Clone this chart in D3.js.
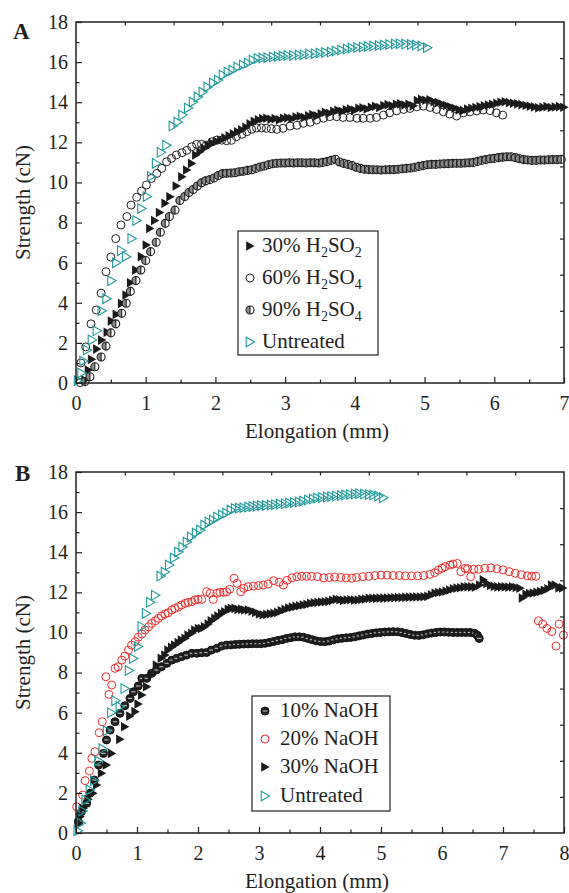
<!DOCTYPE html>
<html><head><meta charset="utf-8">
<script src="https://cdn.jsdelivr.net/npm/d3@7"></script>
<style>body{margin:0;background:#fff} text{font-family:"Liberation Serif","Tinos","DejaVu Serif",serif}</style>
</head><body>
<svg id="c" width="569" height="893" xmlns="http://www.w3.org/2000/svg"></svg>
<script>
// ---------- data (elongation mm, strength cN) ----------
const untreated = [[0.03,0.11],[0.08,0.5],[0.11,1.1],[0.16,1.65],[0.23,2.15],[0.3,2.6],[0.37,3.6],[0.44,4.2],[0.51,5.1],[0.58,6.0],[0.65,6.6],[0.72,6.3],[0.8,7.2],[0.87,8.1],[0.94,8.7],[1.02,9.3],[1.08,10.3],[1.15,10.95],[1.22,11.5],[1.3,11.85],[1.39,12.81],[1.46,13.01],[1.53,13.36],[1.61,13.71],[1.68,14.01],[1.75,14.26],[1.82,14.51],[1.89,14.76],[1.97,14.96],[2.04,15.11],[2.11,15.35],[2.18,15.5],[2.25,15.6],[2.32,15.75],[2.4,15.85],[2.47,15.95],[2.54,16.1],[2.61,16.18],[2.68,16.2],[2.75,16.22],[2.83,16.25],[2.9,16.28],[2.97,16.3],[3.04,16.33],[3.12,16.33],[3.2,16.35],[3.27,16.37],[3.35,16.4],[3.43,16.42],[3.5,16.45],[3.58,16.48],[3.66,16.5],[3.73,16.55],[3.81,16.6],[3.89,16.65],[3.96,16.7],[4.04,16.73],[4.12,16.75],[4.19,16.78],[4.27,16.8],[4.35,16.83],[4.42,16.85],[4.5,16.88],[4.58,16.9],[4.65,16.92],[4.73,16.9],[4.81,16.88],[4.88,16.85],[4.96,16.8],[5.04,16.72]];

const h2so2_30 = [[0.13,0.15],[0.18,0.65],[0.225,1.18],[0.3,1.69],[0.37,2.14],[0.45,2.53],[0.51,3.09],[0.58,3.42],[0.655,3.97],[0.72,4.39],[0.785,5.0],[0.86,5.63],[0.94,6.3],[1.01,6.88],[1.06,7.7],[1.13,8.1],[1.2,8.5],[1.28,8.96],[1.35,9.29],[1.44,9.82],[1.52,10.28],[1.59,10.62],[1.66,10.95],[1.72,11.37],[1.78,11.53],[1.84,11.7],[1.9,11.85],[1.96,11.95],[2.02,12.05],[2.08,12.12],[2.14,12.22],[2.2,12.32],[2.26,12.42],[2.32,12.52],[2.38,12.62],[2.44,12.75],[2.5,12.92],[2.56,13.05],[2.62,13.12],[2.68,13.18],[2.74,13.2],[2.8,13.15],[2.86,13.18],[2.92,13.12],[2.98,13.2],[3.04,13.22],[3.1,13.18],[3.16,13.26],[3.22,13.3],[3.28,13.24],[3.34,13.32],[3.4,13.38],[3.46,13.32],[3.52,13.42],[3.58,13.5],[3.64,13.45],[3.7,13.55],[3.76,13.6],[3.82,13.55],[3.88,13.62],[3.94,13.66],[4.0,13.6],[4.06,13.7],[4.12,13.72],[4.18,13.66],[4.24,13.75],[4.3,13.8],[4.36,13.74],[4.42,13.84],[4.48,13.88],[4.54,13.82],[4.6,13.9],[4.66,13.92],[4.72,13.86],[4.78,13.9],[4.84,13.82],[4.9,14.08],[4.96,14.15],[5.02,14.1],[5.08,14.12],[5.14,14.02],[5.2,13.98],[5.26,13.9],[5.32,13.84],[5.38,13.76],[5.44,13.7],[5.5,13.62],[5.56,13.58],[5.62,13.66],[5.68,13.7],[5.74,13.74],[5.8,13.78],[5.86,13.82],[5.92,13.86],[5.98,13.9],[6.04,13.95],[6.1,14.0],[6.16,14.02],[6.22,13.98],[6.28,13.95],[6.34,13.92],[6.4,13.88],[6.46,13.84],[6.52,13.8],[6.58,13.76],[6.64,13.72],[6.7,13.75],[6.76,13.78],[6.82,13.74],[6.88,13.76],[6.94,13.78],[7.0,13.75]];

const h2so4_60 = [[0.06,0.02],[0.07,1.0],[0.14,1.8],[0.215,2.95],[0.29,3.64],[0.36,4.48],[0.43,5.55],[0.5,6.28],[0.57,7.2],[0.645,7.88],[0.73,8.3],[0.79,8.87],[0.87,9.26],[0.94,9.57],[1.01,9.87],[1.08,10.2],[1.16,10.45],[1.23,10.7],[1.3,11.03],[1.37,11.2],[1.44,11.37],[1.52,11.48],[1.59,11.6],[1.66,11.78],[1.73,11.9],[1.8,11.9],[1.87,11.86],[1.95,12.03],[2.02,12.11],[2.09,12.11],[2.16,12.08],[2.23,12.1],[2.3,12.28],[2.38,12.4],[2.45,12.53],[2.52,12.65],[2.59,12.72],[2.66,12.72],[2.73,12.7],[2.8,12.68],[2.88,12.65],[2.97,12.7],[3.07,12.81],[3.17,12.85],[3.26,12.95],[3.36,13.0],[3.45,13.11],[3.55,13.2],[3.64,13.28],[3.74,13.28],[3.83,13.24],[3.93,13.24],[4.03,13.2],[4.12,13.2],[4.22,13.2],[4.31,13.24],[4.41,13.36],[4.5,13.47],[4.6,13.57],[4.7,13.64],[4.79,13.69],[4.89,13.77],[4.98,13.81],[5.08,13.74],[5.17,13.64],[5.27,13.52],[5.36,13.41],[5.46,13.31],[5.56,13.47],[5.65,13.52],[5.75,13.57],[5.84,13.61],[5.94,13.58],[6.03,13.47],[6.12,13.36]];

const h2so4_90 = [[0.13,0.07],[0.2,0.31],[0.27,0.81],[0.36,1.3],[0.43,1.84],[0.5,2.5],[0.57,2.95],[0.655,3.48],[0.72,3.98],[0.78,4.57],[0.86,5.11],[0.93,5.63],[1.0,6.11],[1.07,6.55],[1.15,7.02],[1.21,7.52],[1.28,7.96],[1.34,8.3],[1.42,8.62],[1.49,9.1],[1.56,9.3],[1.62,9.5],[1.68,9.65],[1.74,9.82],[1.8,9.98],[1.86,10.08],[1.92,10.14],[1.98,10.22],[2.04,10.35],[2.1,10.44],[2.16,10.46],[2.22,10.47],[2.28,10.48],[2.34,10.53],[2.4,10.56],[2.46,10.6],[2.52,10.63],[2.58,10.7],[2.64,10.77],[2.7,10.82],[2.76,10.88],[2.82,10.93],[2.88,10.96],[2.94,10.97],[3.0,10.97],[3.06,10.98],[3.12,10.97],[3.18,10.98],[3.24,10.98],[3.3,10.97],[3.36,10.98],[3.42,10.98],[3.48,10.97],[3.54,11.0],[3.6,11.04],[3.66,11.1],[3.72,11.16],[3.78,11.02],[3.84,10.95],[3.9,10.9],[3.96,10.84],[4.02,10.76],[4.08,10.7],[4.14,10.66],[4.2,10.64],[4.26,10.63],[4.32,10.63],[4.38,10.62],[4.44,10.63],[4.5,10.64],[4.56,10.64],[4.62,10.66],[4.68,10.68],[4.74,10.7],[4.8,10.72],[4.86,10.76],[4.92,10.8],[4.98,10.84],[5.04,10.88],[5.1,10.9],[5.16,10.9],[5.22,10.92],[5.28,10.93],[5.34,10.94],[5.4,10.95],[5.46,10.96],[5.52,10.96],[5.58,10.97],[5.64,10.98],[5.7,11.0],[5.76,11.05],[5.82,11.1],[5.88,11.14],[5.94,11.18],[6.0,11.2],[6.06,11.24],[6.12,11.26],[6.18,11.28],[6.24,11.28],[6.3,11.24],[6.36,11.18],[6.42,11.14],[6.48,11.12],[6.54,11.1],[6.6,11.1],[6.66,11.12],[6.72,11.12],[6.78,11.13],[6.84,11.14],[6.9,11.14],[6.96,11.15]];

const naoh_10 = [[0.04,0.56],[0.09,1.06],[0.175,1.48],[0.23,1.98],[0.3,2.64],[0.37,3.39],[0.45,3.97],[0.5,4.64],[0.56,5.13],[0.64,5.55],[0.72,5.97],[0.8,6.35],[0.885,6.71],[0.94,7.04],[1.02,7.33],[1.08,7.71],[1.16,7.71],[1.24,7.96],[1.32,8.13],[1.4,8.29],[1.49,8.46],[1.57,8.62],[1.65,8.71],[1.73,8.79],[1.81,8.87],[1.9,8.96],[1.98,8.96],[2.06,8.99],[2.14,9.0],[2.22,9.12],[2.31,9.21],[2.39,9.32],[2.47,9.37],[2.54,9.38],[2.61,9.4],[2.68,9.41],[2.75,9.42],[2.82,9.43],[2.89,9.44],[2.96,9.44],[3.03,9.44],[3.1,9.46],[3.17,9.5],[3.24,9.55],[3.31,9.6],[3.38,9.64],[3.45,9.7],[3.52,9.74],[3.59,9.78],[3.66,9.78],[3.73,9.76],[3.8,9.7],[3.87,9.64],[3.94,9.58],[4.01,9.55],[4.08,9.54],[4.15,9.57],[4.22,9.63],[4.29,9.68],[4.36,9.71],[4.43,9.73],[4.5,9.75],[4.57,9.78],[4.64,9.83],[4.71,9.87],[4.78,9.92],[4.85,9.95],[4.92,9.98],[4.99,10.0],[5.06,10.02],[5.13,10.03],[5.2,10.04],[5.27,10.03],[5.34,10.0],[5.41,9.95],[5.48,9.9],[5.55,9.86],[5.62,9.85],[5.69,9.88],[5.76,9.93],[5.83,9.97],[5.9,10.0],[5.97,10.02],[6.04,10.02],[6.11,10.01],[6.18,10.0],[6.25,10.0],[6.32,10.0],[6.39,10.0],[6.46,10.0],[6.53,9.96],[6.58,9.86],[6.61,9.7]];

const naoh_20 = [[0.01,1.31],[0.11,1.89],[0.15,2.61],[0.22,3.09],[0.26,3.72],[0.31,4.05],[0.38,5.0],[0.43,5.55],[0.49,7.79],[0.54,6.91],[0.585,7.38],[0.64,8.21],[0.69,8.29],[0.75,8.62],[0.8,8.82],[0.86,9.12],[0.91,9.37],[0.97,9.54],[1.02,9.76],[1.08,9.92],[1.13,10.12],[1.19,10.28],[1.24,10.45],[1.3,10.58],[1.35,10.7],[1.4,10.82],[1.46,10.92],[1.51,10.98],[1.57,11.12],[1.62,11.2],[1.68,11.28],[1.73,11.37],[1.79,11.45],[1.84,11.5],[1.9,11.53],[1.95,11.62],[2.0,11.65],[2.06,11.65],[2.14,12.03],[2.2,11.95],[2.25,11.65],[2.31,11.95],[2.36,12.0],[2.42,12.0],[2.47,12.03],[2.52,12.15],[2.59,12.7],[2.64,12.45],[2.7,12.03],[2.75,12.2],[2.82,12.28],[2.91,12.31],[2.99,12.34],[3.07,12.36],[3.15,12.42],[3.24,12.58],[3.33,12.5],[3.4,12.36],[3.46,12.6],[3.54,12.72],[3.62,12.78],[3.7,12.8],[3.78,12.8],[3.86,12.8],[3.96,12.78],[4.06,12.72],[4.15,12.74],[4.24,12.76],[4.34,12.74],[4.43,12.72],[4.52,12.7],[4.6,12.74],[4.7,12.78],[4.8,12.8],[4.9,12.84],[5.0,12.86],[5.1,12.86],[5.2,12.84],[5.3,12.84],[5.4,12.82],[5.5,12.82],[5.6,12.82],[5.7,12.84],[5.8,12.9],[5.88,12.98],[5.94,13.11],[6.0,13.2],[6.05,13.28],[6.13,13.36],[6.18,13.41],[6.25,13.44],[6.31,13.03],[6.38,13.2],[6.42,13.18],[6.47,12.78],[6.52,13.15],[6.6,13.15],[6.7,13.2],[6.8,13.22],[6.9,13.18],[7.0,13.12],[7.1,13.03],[7.2,12.95],[7.3,12.88],[7.4,12.82],[7.47,12.8],[7.54,12.8],[7.58,10.58],[7.65,10.42],[7.72,10.2],[7.8,10.04],[7.87,9.32],[7.92,10.42],[7.99,9.87]];

const naoh_30 = [[0.04,0.48],[0.07,0.81],[0.12,1.23],[0.2,1.68],[0.28,1.98],[0.34,2.39],[0.42,2.98],[0.5,3.39],[0.585,3.97],[0.72,4.67],[0.8,5.3],[0.885,5.83],[0.97,6.05],[1.02,6.43],[1.08,6.88],[1.16,7.29],[1.24,7.88],[1.32,8.37],[1.4,8.71],[1.46,8.87],[1.51,9.12],[1.57,9.26],[1.62,9.37],[1.68,9.49],[1.73,9.62],[1.79,9.71],[1.84,9.87],[1.9,9.96],[1.95,10.12],[2.01,10.2],[2.06,10.2],[2.11,10.28],[2.17,10.42],[2.22,10.58],[2.28,10.7],[2.33,10.82],[2.39,10.95],[2.44,11.03],[2.5,11.15],[2.55,11.2],[2.61,11.2],[2.66,11.15],[2.72,11.15],[2.77,11.12],[2.83,11.12],[2.89,11.06],[2.95,11.0],[3.01,10.92],[3.07,10.88],[3.13,10.9],[3.19,10.93],[3.25,10.96],[3.31,11.0],[3.37,11.08],[3.43,11.15],[3.49,11.22],[3.55,11.26],[3.61,11.3],[3.67,11.33],[3.73,11.37],[3.79,11.4],[3.85,11.45],[3.91,11.48],[3.97,11.5],[4.03,11.52],[4.09,11.53],[4.15,11.55],[4.21,11.6],[4.27,11.65],[4.33,11.63],[4.39,11.6],[4.45,11.62],[4.51,11.63],[4.57,11.61],[4.63,11.62],[4.69,11.65],[4.75,11.67],[4.81,11.7],[4.87,11.7],[4.93,11.7],[4.99,11.71],[5.05,11.71],[5.11,11.72],[5.17,11.73],[5.23,11.73],[5.29,11.74],[5.35,11.74],[5.41,11.75],[5.47,11.76],[5.53,11.76],[5.59,11.77],[5.65,11.77],[5.71,11.78],[5.77,11.8],[5.83,11.88],[5.89,11.96],[5.95,11.99],[6.01,12.02],[6.07,12.06],[6.13,12.12],[6.19,12.18],[6.25,12.21],[6.31,12.23],[6.37,12.27],[6.43,12.28],[6.49,12.27],[6.55,12.26],[6.62,12.36],[6.68,12.62],[6.74,12.44],[6.8,12.34],[6.86,12.29],[6.92,12.27],[6.98,12.28],[7.04,12.27],[7.1,12.26],[7.16,12.28],[7.22,12.24],[7.28,12.2],[7.32,11.72],[7.38,11.9],[7.44,11.94],[7.5,11.97],[7.56,12.0],[7.62,12.04],[7.68,12.1],[7.74,12.18],[7.8,12.36],[7.86,12.36],[7.92,12.22],[7.98,12.22]];

const yTicks = [0,2,4,6,8,10,12,14,16,18];
const xTicksA = [0,1,2,3,4,5,6,7];
const xTicksB = [0,1,2,3,4,5,6,7,8];
const xTitle = "Elongation (mm)";
const yTitle = "Strength (cN)";

// ---------- drawing ----------
const FONT = '"Liberation Serif","Tinos","DejaVu Serif",serif';
const INK = "#231f20", TEAL = "#1f9a9c", RED = "#ee2d2d";
const svg = d3.select("#c");

function marker(g, type) {
  const tri = "M-3.8,-4.8L4.6,0L-3.8,4.8Z";
  if (type === "triFill") g.append("path").attr("d", tri).attr("fill", "#1a1a1a");
  else if (type === "triOpen") g.append("path").attr("d", tri).attr("fill", "none").attr("stroke", TEAL).attr("stroke-width", 1.1);
  else if (type === "circOpen") g.append("circle").attr("r", 4).attr("fill", "none").attr("stroke", INK).attr("stroke-width", 1);
  else if (type === "circRed") g.append("circle").attr("r", 4).attr("fill", "none").attr("stroke", RED).attr("stroke-width", 1);
  else if (type === "circHalf") {
    g.append("path").attr("d", "M0,-4A4,4 0 0,0 0,4Z").attr("fill", "#8a8a8a");
    g.append("circle").attr("r", 4).attr("fill", "none").attr("stroke", INK).attr("stroke-width", 1.1);
    g.append("line").attr("x1", 0).attr("x2", 0).attr("y1", -4).attr("y2", 4).attr("stroke", INK).attr("stroke-width", 1.1);
  } else if (type === "circDark") {
    g.append("circle").attr("r", 4).attr("fill", "#222").attr("stroke", "#111").attr("stroke-width", 1);
    g.append("line").attr("x1", -2.2).attr("x2", 2.2).attr("y1", 0).attr("y2", 0).attr("stroke", "#bbb").attr("stroke-width", 1.1);
  }
}

function panel(o) {
  const x = d3.scaleLinear().domain([0, o.xmax]).range([76, 564]);
  const y = d3.scaleLinear().domain([0, 18]).range([o.bottom, o.top]);
  const root = svg.append("g");

  o.series.forEach(s => {
    root.append("g").selectAll("g").data(s.data).join("g")
      .attr("transform", d => `translate(${x(d[0])},${y(d[1])})`)
      .each(function () { marker(d3.select(this), s.type); });
  });

  const style = sel => {
    sel.attr("font-family", FONT).attr("font-size", 20);
    sel.select(".domain").remove();
    sel.selectAll("line").attr("stroke", INK).attr("stroke-width", 1.2);
    sel.selectAll("text").attr("font-family", FONT).attr("font-size", 20).attr("fill", INK);
  };
  root.append("g").attr("transform", `translate(0,${o.bottom})`)
    .call(d3.axisBottom(x).tickValues(o.xTicks).tickFormat(d3.format("d")).tickSizeInner(-6).tickSizeOuter(0).tickPadding(13)).call(style);
  root.append("g").attr("transform", `translate(0,${o.bottom})`)
    .call(d3.axisBottom(x).tickValues(d3.range(0.5, o.xmax, 1)).tickSizeInner(-3.5).tickSizeOuter(0)).call(style)
    .selectAll("text").remove();
  root.append("g").attr("transform", "translate(76,0)")
    .call(d3.axisLeft(y).tickValues(yTicks).tickSizeInner(-6).tickSizeOuter(0).tickPadding(8)).call(style);
  root.append("g").attr("transform", "translate(76,0)")
    .call(d3.axisLeft(y).tickValues(d3.range(1, 18, 2)).tickSizeInner(-3.5).tickSizeOuter(0)).call(style)
    .selectAll("text").remove();
  const xt = d3.scaleLinear().domain([0, 10]).range([76, 564]);
  const yr = d3.scaleLinear().domain([0, 10]).range([o.bottom, o.top]);
  root.append("g").attr("transform", `translate(0,${o.top})`)
    .call(d3.axisTop(xt).tickValues(d3.range(1, 10)).tickSizeInner(-3.5).tickSizeOuter(0)).call(style)
    .selectAll("text").remove();
  root.append("g").attr("transform", "translate(564,0)")
    .call(d3.axisRight(yr).tickValues(d3.range(1, 10)).tickSizeInner(-4).tickSizeOuter(0)).call(style)
    .selectAll("text").remove();
  root.append("rect").attr("x", 76).attr("y", o.top).attr("width", 488).attr("height", o.bottom - o.top)
    .attr("fill", "none").attr("stroke", INK).attr("stroke-width", 1.5);

  root.append("text").attr("x", 317).attr("y", o.bottom + 55).attr("text-anchor", "middle")
    .attr("font-family", FONT).attr("font-size", 21).attr("fill", INK).text(xTitle);
  root.append("text").attr("transform", `translate(30,${(o.top + o.bottom) / 2}) rotate(-90)`).attr("text-anchor", "middle")
    .attr("font-family", FONT).attr("font-size", 21).attr("fill", INK).text(yTitle);
  root.append("text").attr("x", o.lx).attr("y", o.ly).attr("font-family", FONT).attr("font-weight", "bold")
    .attr("font-size", 23).attr("fill", INK).text(o.letter);

  const L = o.legend;
  root.append("rect").attr("x", L.x).attr("y", L.y).attr("width", L.w).attr("height", L.h)
    .attr("fill", "#fff").attr("stroke", INK).attr("stroke-width", 1.2);
  L.items.forEach((it, i) => {
    const cy = L.rows[i];
    const g = root.append("g").attr("transform", `translate(${L.mx},${cy})`);
    marker(g, it.type);
    const t = root.append("text").attr("x", L.tx).attr("y", cy + 6).attr("font-family", FONT)
      .attr("font-size", 21).attr("fill", INK);
    let shifted = false;
    it.parts.forEach(p => {
      if (p.sub) {
        t.append("tspan").attr("font-size", 14).attr("dy", 5).text(p.sub);
        shifted = true;
      } else {
        const ts = t.append("tspan").text(p.t);
        if (shifted) { ts.attr("dy", -5); shifted = false; }
      }
    });
  });
}

panel({
  top: 22, bottom: 383, xmax: 7, xTicks: xTicksA, letter: "A", lx: 13, ly: 39,
  series: [
    { data: h2so2_30, type: "triFill" },
    { data: h2so4_60, type: "circOpen" },
    { data: h2so4_90, type: "circHalf" },
    { data: untreated, type: "triOpen" }
  ],
  legend: { x: 238, y: 231, w: 140, h: 124, mx: 250, tx: 262, rows: [246, 278, 310, 342],
    items: [
      { type: "triFill", parts: [{ t: "30% H" }, { sub: "2" }, { t: "SO" }, { sub: "2" }] },
      { type: "circOpen", parts: [{ t: "60% H" }, { sub: "2" }, { t: "SO" }, { sub: "4" }] },
      { type: "circHalf", parts: [{ t: "90% H" }, { sub: "2" }, { t: "SO" }, { sub: "4" }] },
      { type: "triOpen", parts: [{ t: "Untreated" }] }
    ] }
});

panel({
  top: 472, bottom: 833, xmax: 8, xTicks: xTicksB, letter: "B", lx: 15, ly: 481,
  series: [
    { data: naoh_10, type: "circDark" },
    { data: naoh_20, type: "circRed" },
    { data: naoh_30, type: "triFill" },
    { data: untreated, type: "triOpen" }
  ],
  legend: { x: 252, y: 696, w: 138, h: 115, mx: 265, tx: 280, rows: [711, 739, 767, 796],
    items: [
      { type: "circDark", parts: [{ t: "10% NaOH" }] },
      { type: "circRed", parts: [{ t: "20% NaOH" }] },
      { type: "triFill", parts: [{ t: "30% NaOH" }] },
      { type: "triOpen", parts: [{ t: "Untreated" }] }
    ] }
});
</script>
</body></html>
